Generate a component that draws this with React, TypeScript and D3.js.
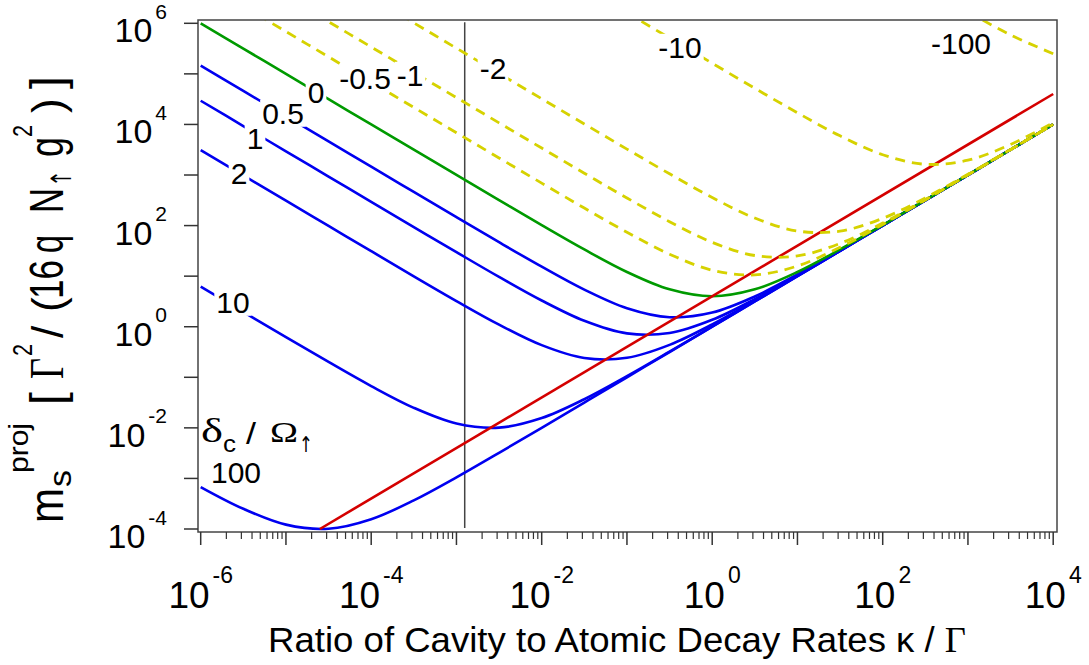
import React, { useEffect, useRef } from 'react';
import * as d3 from 'd3';

// Ratio of cavity to atomic decay rates (kappa / Gamma), half-decade grid
const KAPPA = [1e-6, 3.16e-6, 1e-5, 3.16e-5, 1e-4, 3.16e-4, 1e-3, 3.16e-3, 1e-2, 3.16e-2, 0.1, 0.316, 1, 3.16, 10, 31.6, 100, 316, 1000, 3160, 1e4];

// m_s^proj values for each delta_c / Omega
const DELTA_0 = [1.0e6, 3.16e5, 1.0e5, 3.16e4, 1.0e4, 3164, 1002, 318, 102, 33.7, 12.1, 5.48, 4.0, 5.48, 12.1, 33.7, 102, 318, 1002, 3164, 1.0e4];
const DELTA_P05 = [1.46e5, 4.61e4, 1.46e4, 4614, 1460, 462, 146.7, 46.9, 15.4, 5.41, 2.32, 1.54, 1.91, 3.97, 10.8, 32.4, 100.8, 317, 1001, 3161, 1.0e4];
const DELTA_P1 = [2.94e4, 9309, 2944, 931, 294.7, 93.4, 29.8, 9.66, 3.3, 1.31, 0.738, 0.752, 1.37, 3.51, 10.35, 32.0, 100.3, 316.5, 1000, 3160, 1.0e4];
const DELTA_P2 = [3106, 982, 310.7, 98.3, 31.2, 9.93, 3.22, 1.1, 0.432, 0.241, 0.243, 0.438, 1.11, 3.27, 10.1, 31.7, 100.1, 316, 1000, 3160, 1.0e4];
const DELTA_P10 = [6.19, 1.96, 0.624, 0.201, 0.067, 0.0249, 0.0122, 0.0101, 0.0156, 0.0368, 0.105, 0.321, 1.005, 3.17, 10.0, 31.6, 100, 316, 1000, 3160, 1.0e4];
const DELTA_P100 = [6.76e-4, 2.51e-4, 1.22e-4, 1.01e-4, 1.56e-4, 3.68e-4, 1.05e-3, 3.21e-3, 1.0e-2, 3.17e-2, 0.1, 0.316, 1.0, 3.16, 10, 31.6, 100, 316, 1000, 3160, 1.0e4];
const DELTA_M05 = [null, 2.17e6, 6.86e5, 2.17e5, 6.86e4, 2.17e4, 6859, 2173, 691, 222, 73.9, 27.2, 13.1, 10.6, 15.9, 37.1, 105.3, 321.5, 1005, 3167, 1.0e4];
const DELTA_M1 = [null, null, 3.4e6, 1.074e6, 3.4e5, 1.074e5, 3.4e4, 1.076e4, 3409, 1086, 351.5, 119.4, 46.6, 25.6, 25.1, 44.4, 112, 328, 1012, 3174, 1.001e4];
const DELTA_M2 = [null, null, null, null, 3.22e6, 1.019e6, 3.22e5, 1.019e5, 3.22e4, 1.022e4, 3256, 1055, 359, 141, 78.1, 77.7, 139, 353, 1036, 3198, 1.004e4];
const DELTA_M10 = [null, null, null, null, null, null, null, null, null, null, 1.617e6, 5.12e5, 1.624e5, 5.19e4, 1.7e4, 5946, 2520, 1631, 1966, 4017, 1.082e4];
const DELTA_M100 = [null, null, null, null, null, null, null, null, null, null, null, null, null, null, null, null, null, null, 1.681e6, 5.89e5, 2.5e5];

// Locus of the minima (red line)
const RED_KAPPA = [2.5e-5, 1e4];
const RED_M = [1e-4, 4e4];

// Vertical marker
const MARKER_KAPPA = 1.25e-3;

const BLUE_SERIES = [DELTA_P05, DELTA_P1, DELTA_P2, DELTA_P10, DELTA_P100];
const YELLOW_SERIES = [DELTA_M05, DELTA_M1, DELTA_M2, DELTA_M10, DELTA_M100];

const CURVE_LABELS = ['0', '0.5', '1', '2', '10', '100', '-0.5', '-1', '-2', '-10', '-100'];
const X_TICK_EXP = [-6, -4, -2, 0, 2, 4];
const Y_TICK_EXP = [-4, -2, 0, 2, 4, 6];

// layout (pixel centres of the curve labels)
const LABEL_POS: [number, number][] = [
  [316, 92], [283, 113], [255, 138], [239, 173], [233, 302], [236, 472],
  [365, 78], [410, 75], [493, 68], [680, 47], [961, 43],
];

const SANS = "'Liberation Sans', Arial, sans-serif";
const SERIF = "'Liberation Serif', 'Times New Roman', serif";
const ARROW = "'DejaVu Sans', sans-serif";

export default function App() {
  const ref = useRef<SVGSVGElement>(null);

  useEffect(() => {
    document.body.style.margin = '0';
    const svg = d3.select(ref.current as SVGSVGElement);
    svg.selectAll('*').remove();

    const x = d3.scaleLog().domain([1e-6, 1e4]).range([200.7, 1053.2]);
    const y = d3.scaleLog().domain([1e-4, 1e6]).range([529, 23.3]);

    svg.append('rect').attr('width', 1089).attr('height', 665).attr('fill', '#fff');

    svg.append('defs').append('clipPath').attr('id', 'plotclip')
      .append('rect').attr('x', 199).attr('y', 20.5).attr('width', 857).attr('height', 511);

    const line = d3.line<[number, number | null]>()
      .defined(d => d[1] != null)
      .x(d => x(d[0]))
      .y(d => y(d[1] as number))
      .curve(d3.curveCatmullRom.alpha(0.5));

    const toPts = (vals: (number | null)[]) => KAPPA.map((k, i) => [k, vals[i]] as [number, number | null]);

    const plot = svg.append('g').attr('clip-path', 'url(#plotclip)');

    // vertical marker
    plot.append('line')
      .attr('x1', x(MARKER_KAPPA)).attr('x2', x(MARKER_KAPPA))
      .attr('y1', y(1e6) - 1).attr('y2', y(1e-4) - 1)
      .attr('stroke', '#444').attr('stroke-width', 1.5);

    BLUE_SERIES.forEach(s => {
      plot.append('path').attr('d', line(toPts(s)) as string)
        .attr('fill', 'none').attr('stroke', '#0000f0').attr('stroke-width', 2.6);
    });
    plot.append('path').attr('d', line(toPts(DELTA_0)) as string)
      .attr('fill', 'none').attr('stroke', '#009a00').attr('stroke-width', 2.6);

    plot.append('path')
      .attr('d', d3.line<number>().x((_, i) => x(RED_KAPPA[i])).y(d => y(d))(RED_M) as string)
      .attr('fill', 'none').attr('stroke', '#d40000').attr('stroke-width', 2.6);

    YELLOW_SERIES.forEach(s => {
      plot.append('path').attr('d', line(toPts(s)) as string)
        .attr('fill', 'none').attr('stroke', '#d6d200').attr('stroke-width', 2.8)
        .attr('stroke-dasharray', '10,7');
    });

    // frame
    svg.append('rect').attr('x', 198).attr('y', 20).attr('width', 859).attr('height', 512)
      .attr('fill', 'none').attr('stroke', '#444').attr('stroke-width', 1.5);

    // y ticks
    for (let e = -4; e <= 6; e++) {
      svg.append('line').attr('x1', 184).attr('x2', 198).attr('y1', y(10 ** e)).attr('y2', y(10 ** e))
        .attr('stroke', '#333').attr('stroke-width', 1.5);
    }
    Y_TICK_EXP.forEach(e => {
      const t = svg.append('text').attr('x', 167).attr('y', y(10 ** e) + 19)
        .attr('text-anchor', 'end').attr('font-family', SANS).attr('font-size', 34).attr('fill', '#000');
      t.append('tspan').text('10');
      t.append('tspan').attr('dx', 3).attr('dy', -23.5).attr('font-size', 21).text(String(e));
    });

    // x ticks
    for (let e = -6; e <= 4; e++) {
      svg.append('line').attr('x1', x(10 ** e)).attr('x2', x(10 ** e)).attr('y1', 532).attr('y2', 545)
        .attr('stroke', '#333').attr('stroke-width', 1.5);
      if (e < 4) {
        for (let k = 2; k <= 9; k++) {
          svg.append('line').attr('x1', x(k * 10 ** e)).attr('x2', x(k * 10 ** e)).attr('y1', 532).attr('y2', 539)
            .attr('stroke', '#333').attr('stroke-width', 1.2);
        }
      }
    }
    X_TICK_EXP.forEach(e => {
      const t = svg.append('text').attr('x', x(10 ** e)).attr('y', 608)
        .attr('text-anchor', 'middle').attr('font-family', SANS).attr('font-size', 37).attr('fill', '#000');
      t.append('tspan').text('10');
      t.append('tspan').attr('dx', 3).attr('dy', -25).attr('font-size', 23).text(String(e));
    });

    // x title
    const xt = svg.append('text').attr('x', 617).attr('y', 652).attr('text-anchor', 'middle')
      .attr('font-family', SANS).attr('font-size', 35).attr('fill', '#000')
      .attr('textLength', 698).attr('lengthAdjust', 'spacingAndGlyphs');
    xt.append('tspan').text('Ratio of Cavity to Atomic Decay Rates \u03ba / ');
    xt.append('tspan').attr('font-family', SERIF).text('\u0393');

    // y title (rotated), pieces placed along the axis
    const yt = svg.append('g').attr('transform', 'translate(63,0) rotate(-90)');
    const pieces: [string, number, number | null, string, number, number][] = [
      ['m', 523, 488, SANS, 48, 0],
      ['s', 487, 470, SANS, 32, 8],
      ['proj', 473, 423, SANS, 28, -35],
      ['[', 405, null, SANS, 46, 0],
      ['\u0393', 379, 358, SERIF, 48, 0],
      ['2', 356, 344, SANS, 28, -31],
      ['/', 338, null, SANS, 44, 0],
      ['(', 312, null, SANS, 44, 0],
      ['16', 299, 260, SANS, 48, 0],
      ['q', 253, 235, SANS, 48, 0],
      ['N', 213, 188, SANS, 48, 0],
      ['\u2191', 187, 170, ARROW, 28, 8],
      ['g', 157, 137, SANS, 48, 0],
      ['2', 137, 125, SANS, 28, -31],
      [')', 113, null, SANS, 44, 0],
      [']', 89, null, SANS, 46, 0],
    ];
    pieces.forEach(([txt, y0, y1, fam, fs, v]) => {
      const t = yt.append('text').attr('x', -y0).attr('y', v).attr('font-family', fam).attr('font-size', fs)
        .attr('fill', '#000').text(txt);
      if (y1 != null) t.attr('textLength', y0 - y1).attr('lengthAdjust', 'spacingAndGlyphs');
    });

    // delta_c / Omega legend title
    const legPieces: [string, number, number, number, string, number][] = [
      ['\u03b4', 201, 22, 442, SERIF, 33],
      ['c', 223, 13, 452, SANS, 24],
      ['/', 246, 10, 444, SANS, 30],
      ['\u03a9', 270, 28, 442, SERIF, 29],
      ['\u2191', 299, 14, 452, ARROW, 22],
    ];
    legPieces.forEach(([txt, x0, w, by, fam, fs]) => {
      svg.append('text').attr('x', x0).attr('y', by).attr('font-family', fam).attr('font-size', fs)
        .attr('textLength', w).attr('lengthAdjust', 'spacingAndGlyphs').attr('fill', '#000').text(txt);
    });

    // curve labels with opaque background
    CURVE_LABELS.forEach((lab, i) => {
      const [cx, cy] = LABEL_POS[i];
      const g = svg.append('g');
      const t = g.append('text').attr('x', cx).attr('y', cy + 10.8).attr('text-anchor', 'middle')
        .attr('font-family', SANS).attr('font-size', 30).attr('fill', '#000').text(lab);
      const bb = (t.node() as SVGTextElement).getBBox();
      g.insert('rect', 'text').attr('x', bb.x - 2).attr('y', bb.y + 3)
        .attr('width', bb.width + 4).attr('height', bb.height - 6).attr('fill', '#fff');
    });
  }, []);

  return (
    <svg
      ref={ref}
      width={1089}
      height={665}
      style={{ display: 'block', position: 'absolute', left: 0, top: 0 }}
    />
  );
}
